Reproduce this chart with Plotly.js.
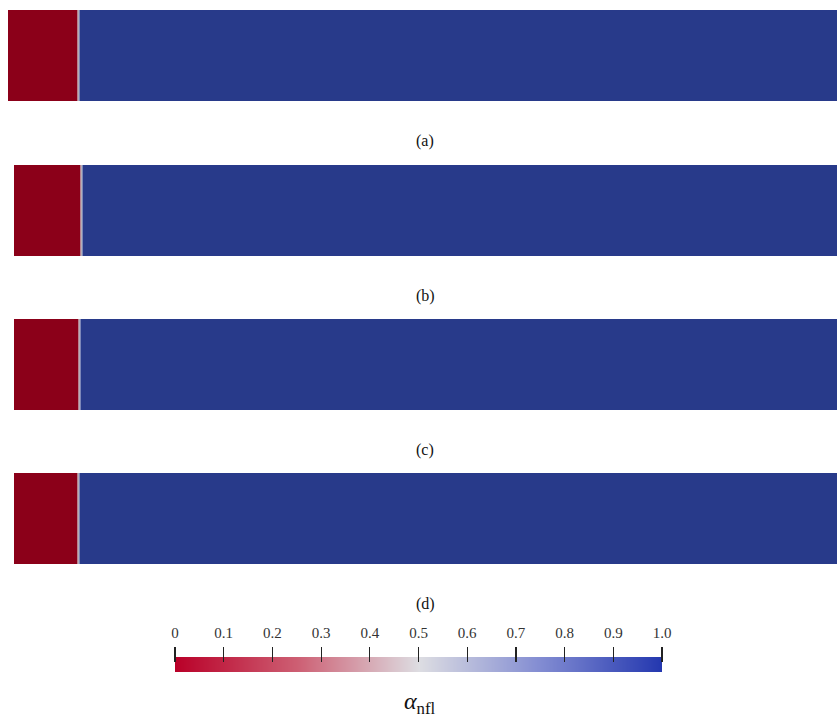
<!DOCTYPE html>
<html>
<head>
<meta charset="utf-8">
<script src="https://cdn.plot.ly/plotly-3.0.1.min.js"></script>
<style>html,body{margin:0;padding:0;background:#fff;}#chart{width:837px;height:718px;}</style>
</head>
<body>
<div id="chart"></div>
<script>
// ---- data ----
const panelLabels = ['(a)', '(b)', '(c)', '(d)'];
// cell edges along the channel (fraction of length) and alpha_nfl in each cell
const xEdgesA = [0, 0.0832, 0.0845, 0.0857, 0.0869, 1];
const xEdgesB = [0, 0.0802, 0.0814, 0.0826, 0.0838, 1];
const xEdgesC = [0, 0.0778, 0.0790, 0.0802, 0.0814, 1];
const xEdgesD = [0, 0.0765, 0.0777, 0.0789, 0.0802, 1];
const alphaA = [0, 0.3, 0.55, 0.8, 1];
const alphaB = [0, 0.3, 0.55, 0.8, 1];
const alphaC = [0, 0.3, 0.55, 0.8, 1];
const alphaD = [0, 0.3, 0.55, 0.8, 1];
const cbSteps = [0, 0.05, 0.1, 0.15, 0.2, 0.25, 0.3, 0.35, 0.4, 0.45, 0.5, 0.55, 0.6, 0.65, 0.7, 0.75, 0.8, 0.85, 0.9, 0.95, 1];
const cbTickVals = [0, 0.1, 0.2, 0.3, 0.4, 0.5, 0.6, 0.7, 0.8, 0.9, 1];
const cbTickText = ['0', '0.1', '0.2', '0.3', '0.4', '0.5', '0.6', '0.7', '0.8', '0.9', '1.0'];

// ---- styles ----
const panelScale = [[0, '#8b0019'], [0.3, '#b8808e'], [0.55, '#b4aeb8'], [0.8, '#7d87b8'], [1, '#283a8a']];
const barScale = [[0, 'rgb(185,0,40)'], [0.25, 'rgb(205,95,115)'], [0.5, 'rgb(221,221,226)'], [0.75, 'rgb(130,140,210)'], [1, 'rgb(35,55,175)']];
const W = 837, H = 718;
const panelBoxes = [
  {x0: 8, x1: 837, y0: 10, y1: 101, ly: 141},
  {x0: 14, x1: 837, y0: 165, y1: 256, ly: 296},
  {x0: 14, x1: 837, y0: 319, y1: 410, ly: 450},
  {x0: 14, x1: 837, y0: 473, y1: 564, ly: 604}
];
const edges = [xEdgesA, xEdgesB, xEdgesC, xEdgesD];
const alphas = [alphaA, alphaB, alphaC, alphaD];

const traces = [];
const layout = {
  width: W, height: H,
  margin: {l: 0, r: 0, t: 0, b: 0},
  paper_bgcolor: '#ffffff', plot_bgcolor: '#ffffff',
  showlegend: false,
  font: {family: 'Liberation Serif'},
  annotations: []
};
const serif = 'Liberation Serif';

panelBoxes.forEach((b, i) => {
  const n = i + 1;
  const xa = 'x' + (n === 1 ? '' : n), ya = 'y' + (n === 1 ? '' : n);
  traces.push({
    type: 'heatmap', x: edges[i], y: [0, 1], z: [alphas[i]],
    xaxis: xa, yaxis: ya, colorscale: panelScale, zmin: 0, zmax: 1,
    showscale: false, hoverinfo: 'skip'
  });
  const xk = 'xaxis' + (n === 1 ? '' : n), yk = 'yaxis' + (n === 1 ? '' : n);
  layout[xk] = {domain: [b.x0 / W, b.x1 / W], range: [0, 1], visible: false, fixedrange: true, anchor: ya};
  layout[yk] = {domain: [1 - b.y1 / H, 1 - b.y0 / H], range: [0, 1], visible: false, fixedrange: true, anchor: xa};
  layout.annotations.push({
    text: panelLabels[i], xref: 'paper', yref: 'paper',
    x: 425 / W, y: 1 - b.ly / H, xanchor: 'center', yanchor: 'middle',
    showarrow: false, font: {family: serif, size: 16, color: '#111'}
  });
});

// colour bar
traces.push({
  type: 'heatmap', x: cbSteps, y: [0, 1], z: [cbSteps, cbSteps],
  xaxis: 'x5', yaxis: 'y5', colorscale: barScale, zmin: 0, zmax: 1,
  zsmooth: 'best', showscale: false, hoverinfo: 'skip'
});
layout.xaxis5 = {
  domain: [175 / W, 662 / W], range: [0, 1], anchor: 'free', position: 1 - 662 / H,
  side: 'top', ticks: 'outside', ticklen: 15, tickwidth: 1.2, tickcolor: '#222',
  tickvals: cbTickVals, ticktext: cbTickText, showgrid: false, zeroline: false,
  showline: false, fixedrange: true, ticklabelstandoff: 3,
  tickfont: {family: serif, size: 15, color: '#333'}
};
layout.yaxis5 = {domain: [1 - 672 / H, 1 - 657 / H], range: [0, 1], visible: false, fixedrange: true, anchor: 'x5'};
layout.annotations.push({
  text: '<i>α</i><sub>nfl</sub>', xref: 'paper', yref: 'paper',
  x: 420 / W, y: 1 - 703 / H, xanchor: 'center', yanchor: 'middle',
  showarrow: false, font: {family: serif, size: 24, color: '#111'}
});

Plotly.newPlot('chart', traces, layout, {displayModeBar: false, staticPlot: true});
</script>
</body>
</html>
